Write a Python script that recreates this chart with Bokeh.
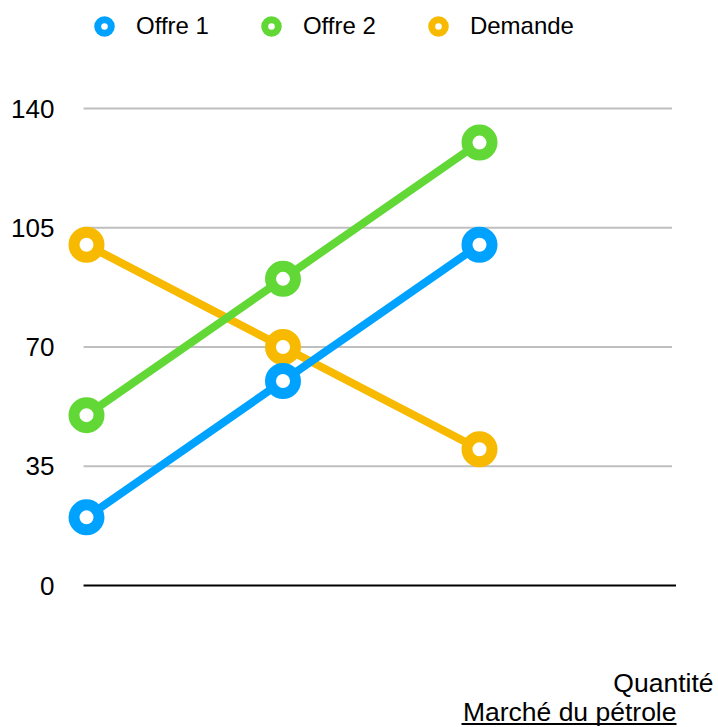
from bokeh.plotting import figure
from bokeh.models import (Range1d, FixedTicker, Legend, LegendItem, Label,
                          BoxAnnotation, ColumnDataSource)
from bokeh.embed import file_html
from bokeh.resources import INLINE

# ---- data ----
x_pos = [0, 1, 2]
offre1 = [20, 60, 100]
offre2 = [50, 90, 130]
demande = [100, 70, 40]
y_ticks = [0, 35, 70, 105, 140]
series_names = ["Offre 1", "Offre 2", "Demande"]
series_colors = ["#00A2FF", "#61D836", "#F8BA00"]
x_title = "Quantité"
chart_title = "Marché du pétrole"

FONT = "Liberation Sans"
XS = 196.5     # px per x unit
YS = 3.4071    # px per y unit

p = figure(width=718, height=727, output_backend="svg", toolbar_location=None,
           x_range=Range1d(-21 / XS, 632 / XS),
           y_range=Range1d(-142 / YS, 585 / YS),
           min_border_left=65, min_border_right=0,
           min_border_top=0, min_border_bottom=0)
p.outline_line_color = None
p.background_fill_color = "white"
p.border_fill_color = "white"
p.xgrid.visible = False
p.ygrid.visible = False
p.xaxis.visible = False

yax = p.yaxis[0]
yax.ticker = FixedTicker(ticks=y_ticks)
yax.axis_line_color = None
yax.major_tick_line_color = None
yax.minor_tick_line_color = None
yax.major_tick_out = 0
yax.major_tick_in = 0
yax.major_label_standoff = 11
yax.major_label_text_font = FONT
yax.major_label_text_font_size = "26px"
yax.major_label_text_color = "#000000"

# gridlines and baseline
grid_y = y_ticks[1:]
p.segment(x0=[-0.015] * len(grid_y), x1=[2.98] * len(grid_y), y0=grid_y, y1=grid_y,
          line_color="#BFBFBF", line_width=2)
p.segment(x0=[-0.015], x1=[3.0], y0=[y_ticks[0]], y1=[y_ticks[0]],
          line_color="#000000", line_width=2)

series = [offre1, offre2, demande]
legend_items = []
# draw Demande first, Offre 1 last (on top)
for idx in [2, 1, 0]:
    src = ColumnDataSource(dict(x=x_pos, y=series[idx]))
    p.line("x", "y", source=src, line_color=series_colors[idx], line_width=8)
    p.scatter("x", "y", source=src, size=25, marker="circle",
              line_color=series_colors[idx], line_width=11, fill_color="white")

nan = float("nan")
for idx in range(3):
    r = p.scatter(x=[nan], y=[nan], size=14, marker="circle",
                  line_color=series_colors[idx], line_width=7, fill_color="white")
    legend_items.append(LegendItem(label=series_names[idx], renderers=[r], index=0))

legend = Legend(items=legend_items, orientation="horizontal",
                location=(22, 684), glyph_width=34, glyph_height=34,
                label_height=34, label_standoff=15, spacing=45, padding=0, margin=0,
                border_line_color=None, background_fill_alpha=0,
                label_text_font=FONT, label_text_font_size="24px",
                label_text_font_style="normal", label_text_color="#000000")
p.add_layout(legend, "center")

p.add_layout(Label(x=648, y=45, x_units="screen", y_units="screen", text=x_title,
                   text_align="right", text_baseline="alphabetic",
                   text_font=FONT, text_font_size="26.5px", text_color="#000000"))
p.add_layout(Label(x=611, y=16, x_units="screen", y_units="screen", text=chart_title,
                   text_align="right", text_baseline="alphabetic",
                   text_font=FONT, text_font_size="26.5px", text_color="#000000"))
p.add_layout(BoxAnnotation(left=396, right=611, bottom=2.5, top=4.5,
                           left_units="screen", right_units="screen",
                           bottom_units="screen", top_units="screen",
                           fill_color="#000000", fill_alpha=1, line_color=None))

open("out.html", "w").write(file_html(p, INLINE))
